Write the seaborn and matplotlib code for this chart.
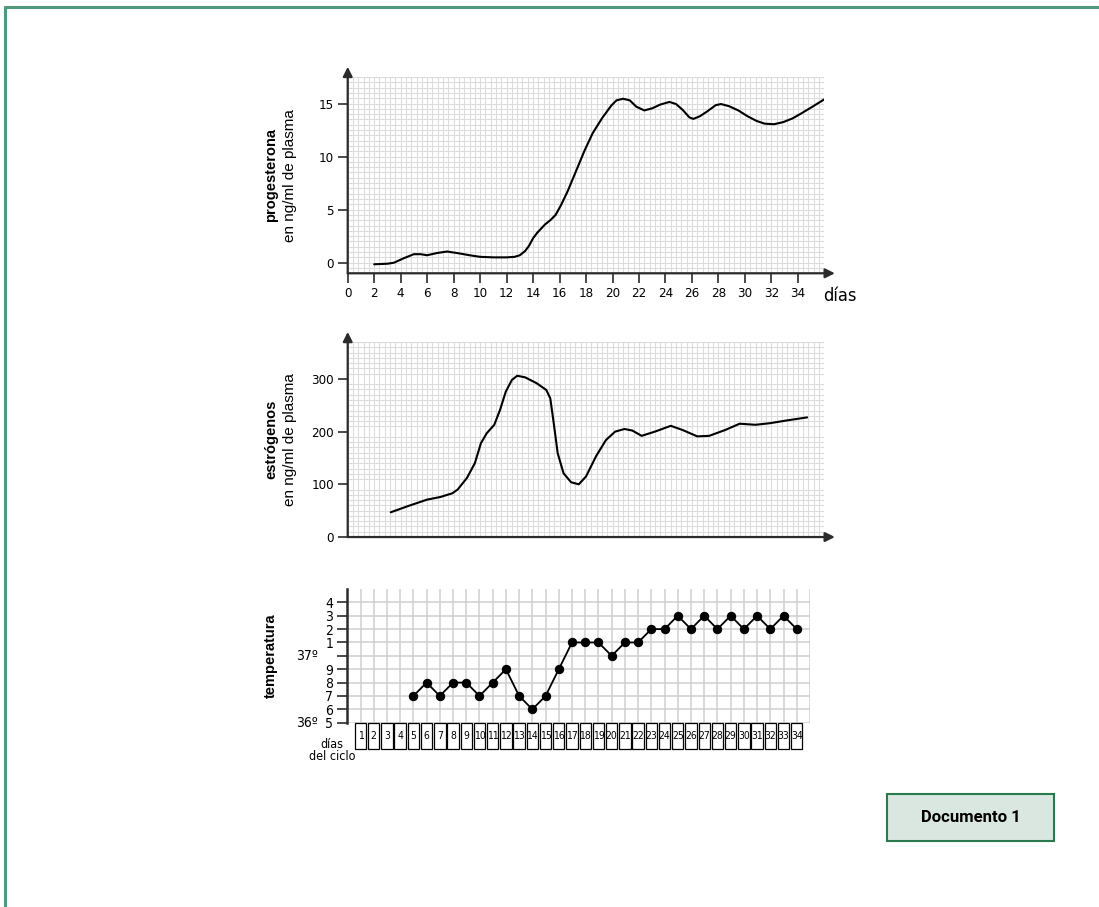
import numpy as np
import pandas as pd
import matplotlib
matplotlib.use("Agg")
import matplotlib.pyplot as plt
from matplotlib.patches import Rectangle
from matplotlib.lines import Line2D
from matplotlib.ticker import MultipleLocator
from matplotlib.transforms import blended_transform_factory
import seaborn as sns

# Values
prog_days = [2, 3, 3.5, 4.2, 5, 5.5, 6, 6.7, 7.5, 8.3, 9.2, 10, 11, 12, 12.6, 13, 13.4,
             13.7, 14.0, 14.3, 14.9, 15.3, 15.7, 16.1, 16.6, 17.2, 17.9, 18.5, 19.2,
             19.9, 20.3, 20.8, 21.3, 21.8, 22.4, 23.0, 23.6, 24.3, 24.8, 25.3, 25.8,
             26.1, 26.6, 27.2, 27.8, 28.2, 28.8, 29.5, 30.2, 30.9, 31.5, 32.2, 32.9,
             33.6, 34.3, 35.1, 36]
prog_vals = [-0.15, -0.1, 0.0, 0.4, 0.8, 0.8, 0.7, 0.9, 1.05, 0.9, 0.7, 0.55, 0.5, 0.5,
             0.55, 0.7, 1.1, 1.6, 2.3, 2.8, 3.6, 4.0, 4.5, 5.4, 6.7, 8.5, 10.6, 12.2,
             13.6, 14.8, 15.3, 15.45, 15.3, 14.7, 14.35, 14.55, 14.9, 15.15, 14.95,
             14.4, 13.7, 13.55, 13.8, 14.3, 14.85, 14.95, 14.75, 14.35, 13.8, 13.35,
             13.1, 13.05, 13.25, 13.6, 14.1, 14.7, 15.4]

estr_days = [3.25, 4.7, 6.0, 7.0, 7.9, 8.3, 9.0, 9.6, 10.06, 10.5, 11.07, 11.5, 11.94,
             12.4, 12.8, 13.4, 14.26, 15.0, 15.3, 15.56, 15.86, 16.3, 16.87, 17.45,
             18.0, 18.75, 19.5, 20.2, 20.9, 21.5, 22.2, 23.2, 24.4, 25.3, 26.4, 27.3,
             28.5, 29.6, 30.8, 31.9, 33.1, 34.7]
estr_vals = [47, 60, 71, 76, 83, 90, 112, 140, 178, 197, 213, 241, 276, 298, 306, 303,
             292, 279, 263, 216, 159, 121, 104, 100, 115, 153, 184, 200, 205, 202, 192,
             200, 211, 203, 191, 192, 203, 215, 213, 216, 221, 227]

temp_days = list(range(5, 35))
temp_vals = [36.7, 36.8, 36.7, 36.8, 36.8, 36.7, 36.8, 36.9, 36.7, 36.6, 36.7, 36.9,
             37.1, 37.1, 37.1, 37.0, 37.1, 37.1, 37.2, 37.2, 37.3, 37.2, 37.3, 37.2,
             37.3, 37.2, 37.3, 37.2, 37.3, 37.2]

cycle_days = list(range(1, 35))
temp_ticks = [36.5, 36.6, 36.7, 36.8, 36.9, 37.0, 37.1, 37.2, 37.3, 37.4]
temp_tick_labels = ["5", "6", "7", "8", "9", "", "1", "2", "3", "4"]

sns.set_theme(style="white")
plt.rcParams["font.family"] = ["DejaVu Sans"]
plt.rcParams["font.stretch"] = "condensed"
plt.rcParams["text.color"] = "black"
plt.rcParams["xtick.labelcolor"] = "black"
plt.rcParams["ytick.labelcolor"] = "black"

AX_COL = "#2b2b2b"
GRID_COL = "#dcdcdc"

fig = plt.figure(figsize=(10.99, 9.07), dpi=100)
fig.patch.set_facecolor("white")

ax1 = fig.add_axes([0.3164, 0.6987, 0.4337, 0.2164])
ax2 = fig.add_axes([0.3164, 0.4079, 0.4337, 0.2150])
ax3 = fig.add_axes([0.3160, 0.2032, 0.4210, 0.1474])


def arrow_axes(ax):
    for s in ax.spines.values():
        s.set_visible(False)
    ax.annotate("", xy=(1.022, 0), xytext=(0, 0), xycoords="axes fraction",
                arrowprops=dict(arrowstyle="-|>", color=AX_COL, lw=1.6,
                                mutation_scale=14, shrinkA=0, shrinkB=0))
    ax.annotate("", xy=(0, 1.052), xytext=(0, 0), xycoords="axes fraction",
                arrowprops=dict(arrowstyle="-|>", color=AX_COL, lw=1.6,
                                mutation_scale=14, shrinkA=0, shrinkB=0))


# Progesterone
prog_df = pd.DataFrame({"day": prog_days, "val": prog_vals})
sns.lineplot(data=prog_df, x="day", y="val", ax=ax1, color="black", lw=1.5,
             estimator=None, sort=False)
ax1.set_xlim(0, 36)
ax1.set_ylim(-1, 17.5)
ax1.xaxis.set_minor_locator(MultipleLocator(0.4))
ax1.yaxis.set_minor_locator(MultipleLocator(0.5))
ax1.set_xticks(range(0, 35, 2))
ax1.set_yticks([0, 5, 10, 15])
ax1.grid(which="both", color=GRID_COL, lw=0.8)
ax1.set_axisbelow(True)
arrow_axes(ax1)
ax1.tick_params(which="major", axis="both", length=7, width=1.2, color=AX_COL,
                labelsize=9.5, pad=3, bottom=True, left=True)
ax1.tick_params(which="minor", length=0)
ax1.set_xlabel("")
ax1.set_ylabel("")
ax1.text(0.997, -0.116, "días", transform=ax1.transAxes, ha="left", va="center",
         fontsize=13)

# Estrogens
estr_df = pd.DataFrame({"day": estr_days, "val": estr_vals})
sns.lineplot(data=estr_df, x="day", y="val", ax=ax2, color="black", lw=1.5,
             estimator=None, sort=False)
ax2.set_xlim(0, 36)
ax2.set_ylim(0, 370)
ax2.xaxis.set_minor_locator(MultipleLocator(0.4))
ax2.yaxis.set_minor_locator(MultipleLocator(10))
ax2.set_xticks([])
ax2.set_yticks([0, 100, 200, 300])
ax2.grid(which="minor", color=GRID_COL, lw=0.8)
ax2.set_axisbelow(True)
arrow_axes(ax2)
ax2.tick_params(which="major", axis="y", length=7, width=1.2, color=AX_COL,
                labelsize=9.5, pad=3, left=True)
ax2.tick_params(which="minor", length=0)
ax2.set_xlabel("")
ax2.set_ylabel("")

# Y labels of the two hormone charts
for ax, name in [(ax1, "progesterona"), (ax2, "estrógenos")]:
    ax.text(-0.161, 0.5, name, transform=ax.transAxes, rotation=90, ha="center",
            va="center", fontsize=10.5, fontweight="bold", family="Liberation Sans")
    ax.text(-0.121, 0.5, "en ng/ml de plasma", transform=ax.transAxes, rotation=90,
            ha="center", va="center", fontsize=11, family="Liberation Sans")

# Temperature
temp_df = pd.DataFrame({"day": temp_days, "temp": temp_vals})
sns.lineplot(data=temp_df, x="day", y="temp", ax=ax3, color="black", lw=1.3,
             marker="o", markersize=6, markeredgecolor="black", estimator=None)
ax3.set_xlim(0, 35)
ax3.set_ylim(36.5, 37.5)
ax3.set_xticks(range(1, 36))
ax3.set_xticklabels([])
ax3.set_yticks(temp_ticks)
ax3.set_yticklabels(temp_tick_labels)
ax3.grid(which="major", color="#cfcfcf", lw=1.1)
ax3.set_axisbelow(True)
for side in ["top", "right", "bottom"]:
    ax3.spines[side].set_visible(False)
ax3.spines["left"].set_color(AX_COL)
ax3.spines["left"].set_linewidth(1.8)
ax3.tick_params(axis="x", length=0)
ax3.tick_params(axis="y", length=7, width=1.2, color=AX_COL, labelsize=10, pad=3,
                left=True)
ax3.set_xlabel("")
ax3.set_ylabel("")

blend = blended_transform_factory(fig.transFigure, ax3.transData)
ax3.text(318 / 1099, 37.0, "37º", transform=blend, ha="right", va="center", fontsize=10)
ax3.text(318 / 1099, 36.5, "36º", transform=blend, ha="right", va="center", fontsize=10)
ax3.text(-0.165, 0.5, "temperatura", transform=ax3.transAxes, rotation=90,
         ha="center", va="center", fontsize=10.5, fontweight="bold",
         family="Liberation Sans")

# Day boxes below the temperature grid
for d in cycle_days:
    ax3.add_patch(Rectangle((d - 0.43, 36.3), 0.86, 0.195, facecolor="white",
                            edgecolor="black", lw=0.9, clip_on=False))
    ax3.text(d, 36.4, str(d), ha="center", va="center", fontsize=7.5, clip_on=False)

fig.text(332 / 1099, 1 - 745 / 907, "días", ha="center", va="center", fontsize=9)
fig.text(332 / 1099, 1 - 756 / 907, "del ciclo", ha="center", va="center", fontsize=9)

# Page frame
frame_col = "#4f9a7c"
fig.add_artist(Line2D([0.0043, 1.0], [0.9926, 0.9926], color=frame_col, lw=2.2,
                      transform=fig.transFigure))
fig.add_artist(Line2D([0.0043, 0.0043], [0.0, 0.9926], color=frame_col, lw=2.2,
                      transform=fig.transFigure))

# Document label
fig.add_artist(Rectangle((0.8074, 0.0731), 0.1517, 0.0515, transform=fig.transFigure,
                         facecolor="#d9e7e0", edgecolor="#2a7a50", lw=1.5))
fig.text(0.8832, 0.0989, "Documento 1", ha="center", va="center", fontsize=12,
         fontweight="bold", family="Roboto")

fig.savefig("out.png", dpi=100)
